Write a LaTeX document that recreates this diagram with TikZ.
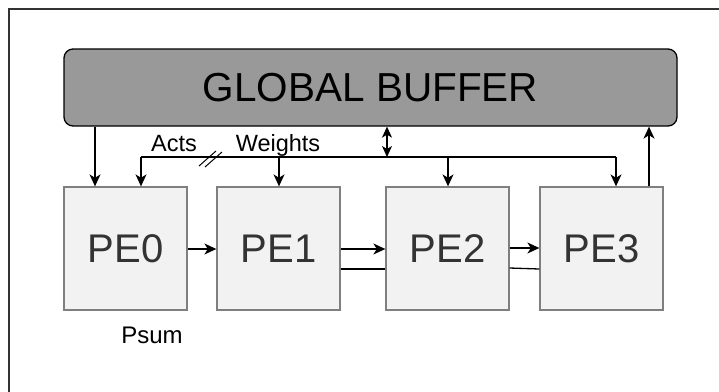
\documentclass[tikz,border=0pt]{standalone}
\usepackage{fontspec}
\setmainfont{Liberation Sans}
\usetikzlibrary{arrows.meta}
\definecolor{bufgray}{HTML}{999999}
\definecolor{pefill}{HTML}{F2F2F2}
\definecolor{peborder}{HTML}{7F7F7F}
\definecolor{petext}{HTML}{333333}
\begin{document}
\begin{tikzpicture}[x=1pt,y=-1pt,
  wire/.style={line width=1.3pt,black},
  arr/.style={wire,-{Stealth[length=12pt,width=11pt,inset=3.5pt]}},
  arrboth/.style={wire,{Stealth[length=11pt,width=10pt,inset=3pt]}-{Stealth[length=11pt,width=10pt,inset=3pt]}},
  pebox/.style={draw=peborder,fill=pefill,line width=1.3pt,minimum width=123pt,minimum height=123pt,
    inner sep=0pt,text=petext,font=\fontsize{40}{48}\selectfont},
  lbl/.style={inner sep=0pt,anchor=base,font=\fontsize{23.5}{28}\selectfont}]
\useasboundingbox (0,0) rectangle (719,391);
% outer frame (runs past the right and bottom edges)
\draw[line width=1.5pt,color=petext] (9,9) rectangle (730,400);

% global buffer
\node[draw=black,fill=bufgray,line width=1.3pt,rounded corners=9pt,minimum width=613pt,minimum height=77pt,
  inner sep=0pt,font=\fontsize{40.5}{48}\selectfont] (buf) at (370.5,87.5) {GLOBAL BUFFER};

% processing elements
\node[pebox] (pe0) at (125.5,248.5) {PE0};
\node[pebox] (pe1) at (278.5,248.5) {PE1};
\node[pebox] (pe2) at (447.5,248.5) {PE2};
\node[pebox] (pe3) at (601.5,248.5) {PE3};

% labels
\node[lbl] (acts) at (174,151) {Acts};
\node[lbl] (wts) at (278,151) {Weights};
\node[lbl,font=\fontsize{24}{28}\selectfont] (psum) at (152,343) {Psum};

% direct feed into PE0
\coordinate (a0) at (95,0);
\draw[arr] (buf.south -| a0) -- (pe0.north -| a0);

% shared acts/weights bus
\coordinate (busL) at (141,157);
\coordinate (busR) at (616,157);
\coordinate (w1) at (279,157);
\coordinate (w2) at (448,157);
\coordinate (bx) at (387,157);
\draw[wire] (busL) -- (busR);
\draw[arr] (busL) -- (pe0.north -| busL);
\draw[arr] (w1) -- (pe1.north -| w1);
\draw[arr] (w2) -- (pe2.north -| w2);
\draw[arr] (busR) -- (pe3.north -| busR);
\draw[arrboth] (buf.south -| bx) -- (bx);
% bus width marks
\draw[line width=1pt] (199,166) -- (216,151);
\draw[line width=1pt] (205,167) -- (222,152);

% result back to the buffer
\coordinate (up) at (649,0);
\draw[arr] (pe3.north -| up) -- (buf.south -| up);

% PE chain
\coordinate (r1) at (0,249);
\coordinate (r2) at (0,269);
\draw[arr] (pe0.east |- r1) -- (pe1.west |- r1);
\draw[arr] (pe1.east |- r1) -- (pe2.west |- r1);
\draw[wire] (pe1.east |- r2) -- (pe2.west |- r2);
\draw[arr] (pe2.east |- 0,248) -- (pe3.west |- 0,248);
\draw[wire] (pe2.east |- 0,268) -- (pe3.west |- r2);
\end{tikzpicture}
\end{document}
